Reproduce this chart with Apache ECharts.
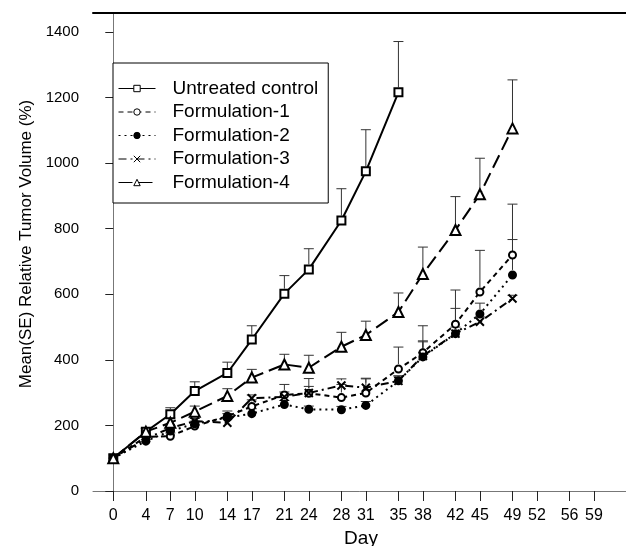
<!DOCTYPE html>
<html>
<head>
<meta charset="utf-8">
<script src="https://cdn.jsdelivr.net/npm/echarts@6/dist/echarts.min.js"></script>
<style>
html, body { margin: 0; padding: 0; background: #fff; }
#chart { width: 626px; height: 546px; }
</style>
</head>
<body>
<div id="chart"></div>
<script>
// tick labels
var dayTicks = [0, 4, 7, 10, 14, 17, 21, 24, 28, 31, 35, 38, 42, 45, 49, 52, 56, 59];
var volumeTicks = [0, 200, 400, 600, 800, 1000, 1200, 1400];
var seriesNames = ['Untreated control', 'Formulation-1', 'Formulation-2', 'Formulation-3', 'Formulation-4'];

// measurement days
var controlDays = [0, 4, 7, 10, 14, 17, 21, 24, 28, 31, 35];
var formDays = [0, 4, 7, 10, 14, 17, 21, 24, 28, 31, 35, 38, 42, 45, 49];

// mean relative tumour volume (%) and SE
var controlMean = [100, 181, 234, 305, 360, 462, 602, 676, 825, 975, 1216];
var controlSE   = [0, 10, 20, 28, 33, 42, 55, 63, 97, 127, 155];
var f1Mean = [100, 165, 167, 198, 228, 258, 293, 298, 285, 299, 372, 422, 509, 607, 720];
var f1SE   = [0, 8, 10, 10, 16, 20, 32, 45, 40, 45, 67, 82, 104, 127, 155];
var f2Mean = [100, 152, 183, 205, 224, 236, 264, 249, 248, 261, 336, 409, 480, 540, 659];
var f2SE   = [0, 5, 8, 8, 12, 15, 12, 10, 10, 12, 15, 46, 77, 33, 108];
var f3Mean = [100, 160, 192, 213, 208, 283, 287, 299, 322, 315, 336, 412, 480, 516, 587];
var f3SE   = [0, 5, 8, 8, 12, 10, 15, 20, 20, 27, 15, 46, 20, 15, 10];
var f4Mean = [100, 181, 208, 242, 290, 346, 386, 376, 440, 476, 546, 662, 796, 905, 1106];
var f4SE   = [0, 10, 15, 17, 22, 25, 31, 38, 44, 42, 58, 82, 102, 110, 148];

function pairs(xs, ys) {
    var out = [];
    for (var i = 0; i < xs.length; i++) out.push([xs[i], ys[i]]);
    return out;
}
function triples(xs, ys, es) {
    var out = [];
    for (var i = 0; i < xs.length; i++) out.push([xs[i], ys[i], es[i]]);
    return out;
}

function renderErr(params, api) {
    var x = api.value(0), m = api.value(1), se = api.value(2);
    if (!se) return;
    var p0 = api.coord([x, m]);
    var p1 = api.coord([x, m + se]);
    var y0 = Math.max(p0[1] - 5, p1[1]);
    var style = { stroke: '#333', lineWidth: 1 };
    return {
        type: 'group',
        children: [
            { type: 'line', shape: { x1: p0[0], y1: y0, x2: p1[0], y2: p1[1] }, style: style },
            { type: 'line', shape: { x1: p1[0] - 5, y1: p1[1], x2: p1[0] + 5, y2: p1[1] }, style: style }
        ]
    };
}

function errSeries(xs, ys, es) {
    return {
        type: 'custom',
        renderItem: renderErr,
        data: triples(xs, ys, es),
        encode: { x: 0, y: 1 },
        z: 1,
        silent: true
    };
}

function lineSeries(name, xs, ys, symbol, size, fill, dash) {
    return {
        name: name,
        type: 'line',
        data: pairs(xs, ys),
        symbol: symbol,
        symbolSize: size,
        showAllSymbol: true,
        z: 3,
        itemStyle: { color: fill, borderColor: '#000', borderWidth: 2 },
        lineStyle: { color: '#000', width: 2, type: dash }
    };
}

var xMark = 'path://M0,0L10,10M10,0L0,10';

var chart = echarts.init(document.getElementById('chart'));
var font = 'Liberation Sans, Arial, sans-serif';

chart.setOption({
    animation: false,
    backgroundColor: '#fff',
    grid: { left: 93, right: -3, top: 13, bottom: 55, outerBoundsMode: 'none', containLabel: false },
    legend: {
        left: 113,
        top: 63,
        orient: 'vertical',
        data: seriesNames,
        padding: [16, 10, 11, 5],
        itemGap: 4.5,
        itemWidth: 37,
        itemHeight: 8,
        borderColor: '#000',
        borderWidth: 1,
        backgroundColor: '#fff',
        itemStyle: { borderWidth: 1 },
        lineStyle: { width: 1 },
        textStyle: { fontFamily: font, fontSize: 19, color: '#000', lineHeight: 19, padding: [0, 0, 0, 12] }
    },
    xAxis: [{
        type: 'value',
        min: -2.49,
        max: 63.3,
        name: 'Day',
        nameLocation: 'middle',
        nameGap: 34,
        nameTextStyle: { fontFamily: font, fontSize: 19, color: '#000' },
        axisLine: { lineStyle: { color: '#777', width: 1 } },
        axisTick: { customValues: dayTicks, length: 10, lineStyle: { color: '#222' } },
        axisLabel: { customValues: dayTicks, margin: 17, fontFamily: font, fontSize: 16, color: '#000' },
        splitLine: { show: false }
    }, {
        type: 'value',
        position: 'top',
        min: -2.49,
        max: 63.3,
        axisLine: { lineStyle: { color: '#000', width: 2 } },
        axisTick: { show: false },
        axisLabel: { show: false },
        splitLine: { show: false }
    }],
    yAxis: {
        type: 'value',
        min: 0,
        max: 1458,
        name: 'Mean(SE) Relative Tumor Volume (%)',
        nameLocation: 'middle',
        nameGap: 58,
        nameTextStyle: { fontFamily: font, fontSize: 17, color: '#000', padding: [0, 0, 0, 16] },
        axisLine: { show: true, lineStyle: { color: '#777', width: 1 } },
        axisTick: { show: true, customValues: volumeTicks, length: 8, lineStyle: { color: '#222' } },
        axisLabel: {
            customValues: volumeTicks, margin: 14, fontFamily: font, fontSize: 15, color: '#000',
            formatter: function (v) { return String(v); }
        },
        splitLine: { show: false }
    },
    series: [
        errSeries(controlDays, controlMean, controlSE),
        errSeries(formDays, f1Mean, f1SE),
        errSeries(formDays, f2Mean, f2SE),
        errSeries(formDays, f3Mean, f3SE),
        errSeries(formDays, f4Mean, f4SE),
        lineSeries(seriesNames[0], controlDays, controlMean, 'rect', 8, '#fff', 'solid'),
        lineSeries(seriesNames[1], formDays, f1Mean, 'circle', 7, '#fff', [5, 4]),
        lineSeries(seriesNames[2], formDays, f2Mean, 'circle', 7, '#000', [2, 4]),
        lineSeries(seriesNames[3], formDays, f3Mean, xMark, 8, '#000', [8, 4, 2, 4]),
        lineSeries(seriesNames[4], formDays, f4Mean, 'triangle', 10, '#fff', [14, 6])
    ]
});
</script>
</body>
</html>
